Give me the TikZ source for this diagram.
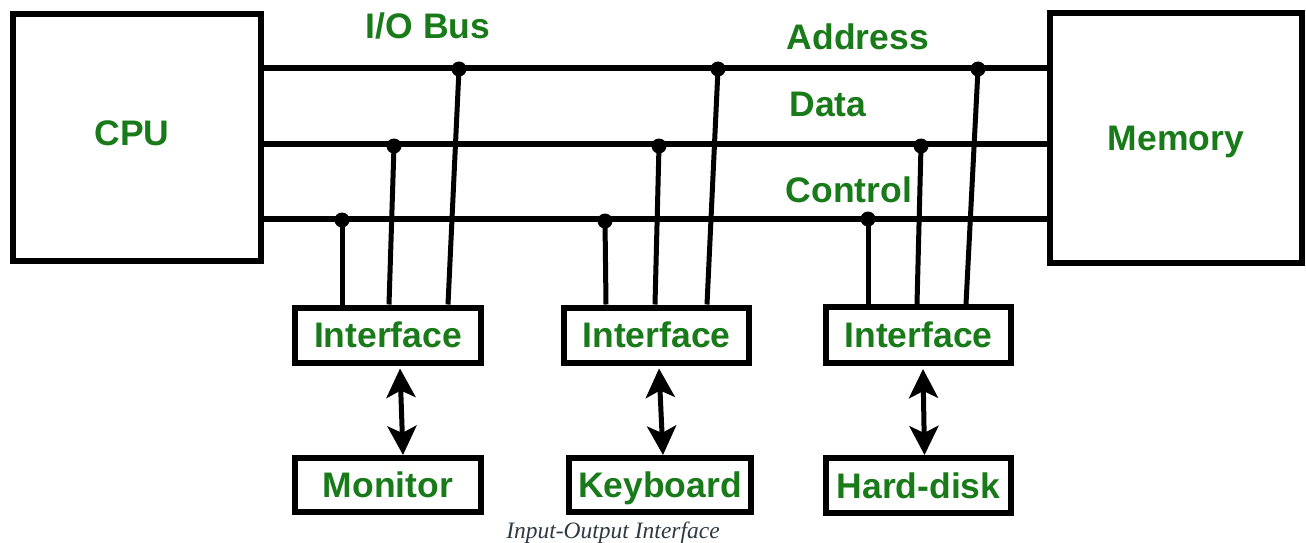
\documentclass[tikz,border=0pt]{standalone}
\usepackage{fontspec}
\setmainfont{Liberation Sans}
\newfontfamily\capfont{Liberation Serif}
\usetikzlibrary{arrows.meta}
\definecolor{labelgreen}{RGB}{25,122,25}
\definecolor{captiongray}{RGB}{45,58,66}
\tikzset{
	unit/.style={draw, line width=6pt, text=labelgreen, font=\bfseries\fontsize{35.5}{40}\selectfont, text height=25pt, text depth=0pt, inner sep=0pt},
	buslabel/.style={text=labelgreen, font=\bfseries\fontsize{35.5}{40}\selectfont, text height=25pt, text depth=0pt, inner sep=0pt},
	bus/.style={line width=5.5pt},
	tap/.style={line width=5pt},
	dblarrow/.style={line width=5pt, {Stealth[length=29pt,width=29pt,inset=7pt]}-{Stealth[length=29pt,width=29pt,inset=7pt]}}
}
\begin{document}
\begin{tikzpicture}[x=1pt, y=-1pt]
		\useasboundingbox (0,0) rectangle (1306,543);
		% main units
		\node[unit, minimum width=248pt, minimum height=247pt] (cpu) at (137,137.5) {};
		\node[buslabel] (cpulabel) at (132,133) {CPU};
		\node[unit, minimum width=252pt, minimum height=250pt] (mem) at (1176,138) {Memory};
		% interfaces and devices
		\node[unit, minimum width=186pt, minimum height=55pt] (if1) at (388,335) {Interface};
		\node[unit, minimum width=185pt, minimum height=55pt] (if2) at (656.5,335) {Interface};
		\node[unit, minimum width=185pt, minimum height=56pt] (if3) at (918.5,335) {Interface};
		\node[unit, minimum width=186pt, minimum height=54pt] (mon) at (388,485) {Monitor};
		\node[unit, minimum width=182pt, minimum height=54pt] (key) at (660,485) {Keyboard};
		\node[unit, minimum width=185pt, minimum height=55pt] (hdd) at (918.5,485.5) {Hard-disk};
		% bus labels
		\node[buslabel] (iobus) at (428,26) {I/O Bus};
		\node[buslabel] (addrlabel) at (858,37) {Address};
		\node[buslabel] (datalabel) at (828,104) {Data};
		\node[buslabel] (ctrllabel) at (849,190) {Control};
		% bus lines
		\draw[bus] (cpu.east |- 0,68) -- (mem.west |- 0,68);
		\draw[bus] (cpu.east |- 0,144) -- (mem.west |- 0,144);
		\draw[bus] (cpu.east |- 0,219) -- (mem.west |- 0,219);
		% taps
		\coordinate (ctl1) at (342,220);
		\coordinate (dat1) at (394,146);
		\coordinate (adr1) at (459,69);
		\coordinate (ctl2) at (605,221);
		\coordinate (dat2) at (659,146);
		\coordinate (adr2) at (718,69);
		\coordinate (ctl3) at (868,219);
		\coordinate (dat3) at (921,146);
		\coordinate (adr3) at (978,69);
		\draw[tap] (ctl1) -- ([xshift=-46pt]if1.north);
		\draw[tap] (dat1) -- ([xshift=1pt]if1.north);
		\draw[tap] (adr1) -- ([xshift=60pt]if1.north);
		\draw[tap] (ctl2) -- ([xshift=-50.5pt]if2.north);
		\draw[tap] (dat2) -- ([xshift=-1.5pt]if2.north);
		\draw[tap] (adr2) -- ([xshift=50.5pt]if2.north);
		\draw[tap] (ctl3) -- ([xshift=-50.5pt]if3.north);
		\draw[tap] (dat3) -- ([xshift=-1.5pt]if3.north);
		\draw[tap] (adr3) -- ([xshift=47.5pt]if3.north);
		\foreach \p in {ctl1,dat1,adr1,ctl2,dat2,adr2,ctl3,dat3,adr3}
			\fill (\p) circle (7.5pt);
		% interface to device
		\draw[dblarrow] ([xshift=12pt,yshift=-3pt]if1.south) -- ([xshift=15pt]mon.north);
		\draw[dblarrow] ([xshift=2.5pt,yshift=-3pt]if2.south) -- ([xshift=3pt]key.north);
		\draw[dblarrow] ([xshift=4.5pt,yshift=-3pt]if3.south) -- ([xshift=6pt]hdd.north);
		\node[text=captiongray, font=\capfont\itshape\fontsize{23.5}{28}\selectfont, anchor=base, inner sep=0pt] (caption) at (613,538) {Input-Output Interface};
	\end{tikzpicture}
\end{document}
